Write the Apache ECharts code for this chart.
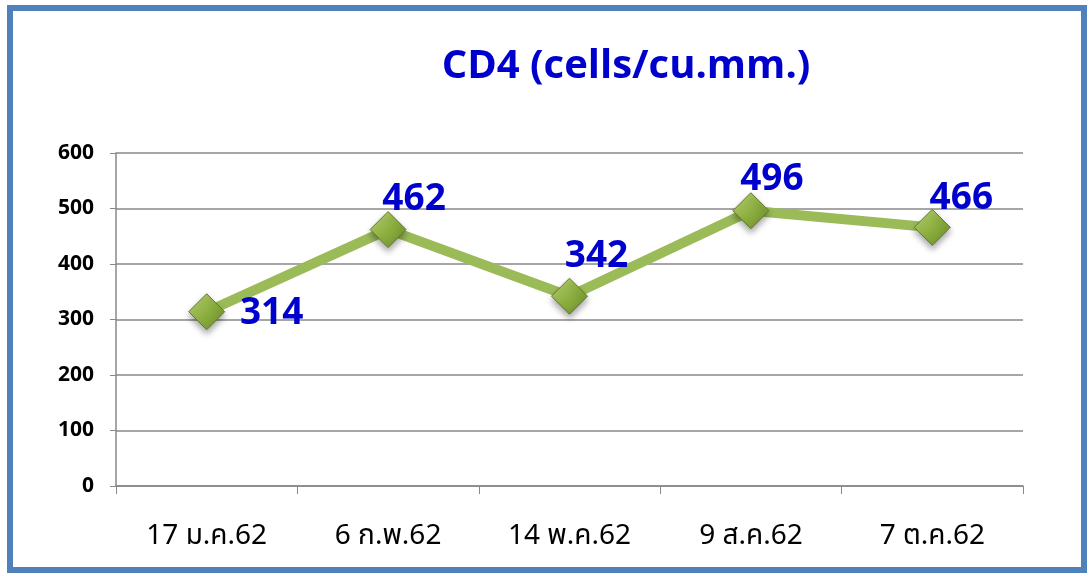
<!DOCTYPE html>
<html><head><meta charset="utf-8">
<script src="https://cdn.jsdelivr.net/npm/echarts@6/dist/echarts.min.js"></script>
<style>html,body{margin:0;padding:0;background:#fff;}#c{width:1092px;height:576px;}</style>
</head><body><div id="c"></div>
<script>
const titleText = 'CD4 (cells/cu.mm.)';
const categories = ['17 ม.ค.62', '6 ก.พ.62', '14 พ.ค.62', '9 ส.ค.62', '7 ต.ค.62'];
const cd4Values = [314, 462, 342, 496, 466];
const yTicks = [0, 100, 200, 300, 400, 500, 600];

const chart = echarts.init(document.getElementById('c'));
const labelOffsets = [[65, 2], [26, -30], [27, -40], [21, -31], [29, -29]];
chart.setOption({
  animation: false,
  backgroundColor: '#fff',
  graphic: [{
    type: 'rect', shape: {x: 10, y: 8, width: 1074, height: 562},
    style: {fill: 'none', stroke: '#4F81BD', lineWidth: 6}
  }],
  title: {
    text: titleText, left: 621, top: 42, textAlign: 'center',
    textStyle: {color: '#0000CC', fontSize: 40, fontWeight: 'bold', fontFamily: 'Open Sans, Noto Sans, sans-serif'}
  },
  grid: {left: 116, right: 69, top: 153, bottom: 90, containLabel: false},
  xAxis: {
    type: 'category', data: categories, boundaryGap: true,
    axisLine: {lineStyle: {color: '#888', width: 1.5}},
    axisTick: {show: true, length: 8, lineStyle: {color: '#888'}},
    axisLabel: {color: '#000', fontSize: 28, margin: 38, fontFamily: 'Noto Sans Thai, Noto Sans, Tahoma, sans-serif'}
  },
  yAxis: {
    type: 'value', min: 0, max: 600, interval: 100,
    axisLine: {show: true, lineStyle: {color: '#888', width: 1.5}},
    axisTick: {show: true, length: 6, lineStyle: {color: '#888'}},
    splitLine: {lineStyle: {color: '#888', width: 1.5}},
    axisLabel: {color: '#000', fontSize: 21, fontWeight: 'bold', margin: 22, fontFamily: 'Open Sans, Noto Sans, sans-serif',
      formatter: v => yTicks.includes(v) ? String(v) : ''}
  },
  series: [{
    type: 'line',
    data: cd4Values.map((v, i) => ({value: v, label: {offset: labelOffsets[i]}})),
    lineStyle: {color: '#9BBB59', width: 10},
    symbol: 'diamond', symbolSize: [36, 36],
    itemStyle: {
      color: new echarts.graphic.LinearGradient(0, 0, 1, 1, [
        {offset: 0, color: '#C3DB7E'}, {offset: 0.5, color: '#8DB040'}, {offset: 1, color: '#6A8A2A'}
      ]),
      borderColor: '#5E7A2A', borderWidth: 1,
      shadowColor: 'rgba(0,0,0,0.35)', shadowBlur: 6, shadowOffsetY: 4
    },
    label: {
      show: true, position: 'inside', color: '#0000CC', fontSize: 37, fontWeight: 'bold',
      fontFamily: 'Open Sans, Noto Sans, sans-serif'
    }
  }]
});
</script></body></html>
